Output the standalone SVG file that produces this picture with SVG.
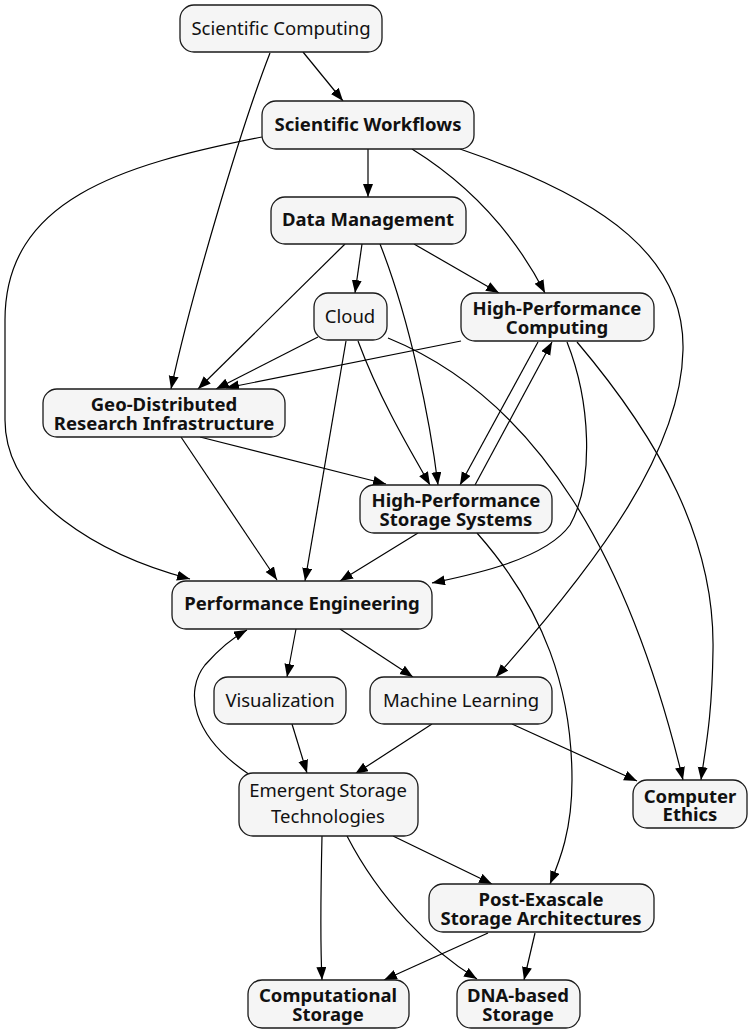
<svg xmlns="http://www.w3.org/2000/svg" width="753" height="1033" viewBox="0 0 753 1033">
<style>
.n rect{fill:#f5f5f5;stroke:#1a1a1a;stroke-width:1.3}
.n text{font-family:"Noto Sans","DejaVu Sans",sans-serif;font-size:18.5px;fill:#111;text-anchor:middle;dominant-baseline:central}
.n text.b{font-weight:bold}
#edges path{fill:none;stroke:#000;stroke-width:1.2;marker-end:url(#ah)}
</style>
<defs>
<marker id="ah" markerUnits="userSpaceOnUse" markerWidth="14" markerHeight="11" refX="13" refY="5" orient="auto">
<path d="M0,0 L13,5 L0,10 z" fill="#000"/>
</marker>
</defs>
<rect width="753" height="1033" fill="#fff"/>
<g id="edges">
<path d="M303,52 L343,101"/>
<path d="M270,53 C240,130 190,300 171,389"/>
<path d="M368,149 L368,197"/>
<path d="M262,137 C120,165 5,200 5,320 L5,420 C5,500 100,555 190,579"/>
<path d="M412,149 C470,185 515,235 545,293"/>
<path d="M460,149 C610,200 685,260 683,350 C681,450 600,560 496,677"/>
<path d="M362,244 L355,293"/>
<path d="M345,244 L198,389"/>
<path d="M414,244 L499,293"/>
<path d="M380,244 C410,320 430,420 438,485"/>
<path d="M318,337 L216,389"/>
<path d="M358,341 C380,400 410,450 430,485"/>
<path d="M346,341 L305,581"/>
<path d="M388,338 C540,400 630,560 683,780"/>
<path d="M461,341 L226,388"/>
<path d="M538,342 L460,485"/>
<path d="M475,485 L552,342"/>
<path d="M567,342 C590,400 595,480 570,525 C545,560 470,575 432,583"/>
<path d="M577,342 C660,440 715,540 713,650 C712,720 705,750 701,780"/>
<path d="M200,437 L386,484"/>
<path d="M181,437 L277,580"/>
<path d="M418,533 L340,581"/>
<path d="M477,533 C545,610 572,690 572,780 C572,830 560,860 550,884"/>
<path d="M296,629 L287,677"/>
<path d="M340,629 L413,677"/>
<path d="M432,724 L355,774"/>
<path d="M512,724 L637,781"/>
<path d="M292,724 L307,773"/>
<path d="M250,775 C190,735 185,690 205,665 C220,648 232,638 247,630"/>
<path d="M322,836 C321,880 320,940 322,980"/>
<path d="M347,836 C380,900 430,950 477,979"/>
<path d="M393,836 L492,884"/>
<path d="M488,933 L384,980"/>
<path d="M535,933 L524,980"/>
</g>
<g id="sci-computing" class="n"><rect x="180" y="5" width="202" height="47" rx="14"/><text x="281" y="27">Scientific Computing</text></g>
<g id="sci-workflows" class="n"><rect x="262" y="101" width="212" height="48" rx="14"/><text class="b" x="368" y="123">Scientific Workflows</text></g>
<g id="data-mgmt" class="n"><rect x="271" y="197" width="195" height="47" rx="14"/><text class="b" x="368" y="218">Data Management</text></g>
<g id="cloud" class="n"><rect x="314" y="293" width="73" height="47" rx="14"/><text x="350" y="315">Cloud</text></g>
<g id="hpc" class="n"><rect x="461" y="293" width="193" height="48" rx="14"/><text class="b" x="557" y="307">High-Performance</text><text class="b" x="557" y="326">Computing</text></g>
<g id="geo" class="n"><rect x="43" y="389" width="242" height="48" rx="14"/><text class="b" x="164" y="403">Geo-Distributed</text><text class="b" x="164" y="422">Research Infrastructure</text></g>
<g id="hpss" class="n"><rect x="360" y="485" width="192" height="48" rx="14"/><text class="b" x="456" y="499">High-Performance</text><text class="b" x="456" y="518">Storage Systems</text></g>
<g id="perf-eng" class="n"><rect x="172" y="581" width="260" height="48" rx="14"/><text class="b" x="302" y="602">Performance Engineering</text></g>
<g id="viz" class="n"><rect x="214" y="677" width="132" height="47" rx="14"/><text x="280" y="699">Visualization</text></g>
<g id="ml" class="n"><rect x="370" y="677" width="182" height="47" rx="14"/><text x="461" y="699">Machine Learning</text></g>
<g id="emergent" class="n"><rect x="239" y="773" width="179" height="63" rx="14"/><text x="328" y="789">Emergent Storage</text><text x="328" y="815">Technologies</text></g>
<g id="ethics" class="n"><rect x="633" y="780" width="114" height="48" rx="14"/><text class="b" x="690" y="795">Computer</text><text class="b" x="690" y="813">Ethics</text></g>
<g id="post-exascale" class="n"><rect x="429" y="884" width="225" height="48" rx="14"/><text class="b" x="541" y="898">Post-Exascale</text><text class="b" x="541" y="917">Storage Architectures</text></g>
<g id="comp-storage" class="n"><rect x="248" y="980" width="161" height="48" rx="14"/><text class="b" x="328" y="994">Computational</text><text class="b" x="328" y="1013">Storage</text></g>
<g id="dna" class="n"><rect x="457" y="980" width="123" height="48" rx="14"/><text class="b" x="518" y="994">DNA-based</text><text class="b" x="518" y="1013">Storage</text></g>
</svg>
